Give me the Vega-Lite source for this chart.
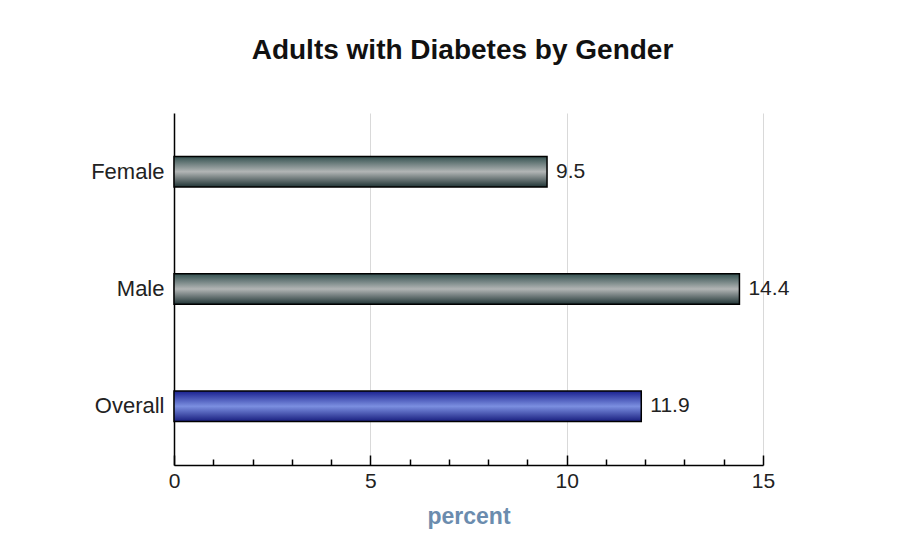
{
  "$schema": "https://vega.github.io/schema/vega-lite/v6.json",
  "autosize": "none",
  "width": 589,
  "height": 352,
  "padding": {"left": 174, "top": 113, "right": 157, "bottom": 91},
  "background": "white",
  "title": {
    "text": "Adults with Diabetes by Gender",
    "font": "Liberation Sans",
    "fontSize": 28,
    "fontWeight": "bold",
    "color": "#111111",
    "anchor": "middle",
    "frame": "group",
    "offset": 48,
    "dx": -6
  },
  "config": {
    "view": {"stroke": null},
    "font": "Liberation Sans"
  },
  "data": {
    "values": [
      {"group": "Female", "percent": 9.5},
      {"group": "Male", "percent": 14.4},
      {"group": "Overall", "percent": 11.9}
    ]
  },
  "encoding": {
    "y": {
      "field": "group",
      "type": "nominal",
      "sort": ["Female", "Male", "Overall"],
      "scale": {"paddingInner": 0.74, "paddingOuter": 0.37},
      "axis": {
        "title": null,
        "ticks": false,
        "domainColor": "#000000",
        "domainWidth": 1.5,
        "labelFontSize": 22,
        "labelColor": "#222222",
        "labelPadding": 10
      }
    },
    "x": {
      "field": "percent",
      "type": "quantitative",
      "scale": {"domain": [0, 15], "nice": false},
      "axis": {
        "title": "percent",
        "titleColor": "#6b8cae",
        "titleFontSize": 23,
        "titleFontWeight": "bold",
        "titlePadding": 14,
        "values": [0, 1, 2, 3, 4, 5, 6, 7, 8, 9, 10, 11, 12, 13, 14, 15],
        "labelExpr": "datum.value % 5 === 0 ? datum.label : ''",
        "labelFontSize": 21,
        "labelColor": "#222222",
        "labelPadding": 15,
        "labelFlush": false,
        "domainColor": "#000000",
        "domainWidth": 1.5,
        "tickColor": "#000000",
        "tickWidth": 1.5,
        "tickSize": {"condition": {"test": "datum.value % 5 === 0", "value": -10}, "value": -6},
        "grid": true,
        "gridColor": "#d9d9d9",
        "gridWidth": 1,
        "gridOpacity": {"condition": {"test": "datum.value % 5 === 0 && datum.value > 0", "value": 1}, "value": 0}
      }
    }
  },
  "layer": [
    {
      "mark": {
        "type": "bar",
        "stroke": "#000000",
        "strokeWidth": 1.5
      },
      "encoding": {
        "fill": {
          "condition": {
            "test": "datum.group === 'Overall'",
            "value": {
              "gradient": "linear",
              "x1": 0, "y1": 0, "x2": 0, "y2": 1,
              "stops": [
                {"offset": 0, "color": "#1a2190"},
                {"offset": 0.5, "color": "#7b8fe0"},
                {"offset": 1, "color": "#171d7e"}
              ]
            }
          },
          "value": {
            "gradient": "linear",
            "x1": 0, "y1": 0, "x2": 0, "y2": 1,
            "stops": [
              {"offset": 0, "color": "#33504f"},
              {"offset": 0.5, "color": "#b2b5b5"},
              {"offset": 1, "color": "#213536"}
            ]
          }
        }
      }
    },
    {
      "mark": {
        "type": "text",
        "align": "left",
        "baseline": "middle",
        "dx": 9,
        "fontSize": 21,
        "color": "#222222"
      },
      "encoding": {
        "text": {"field": "percent", "type": "quantitative", "format": ".1f"}
      }
    }
  ]
}
